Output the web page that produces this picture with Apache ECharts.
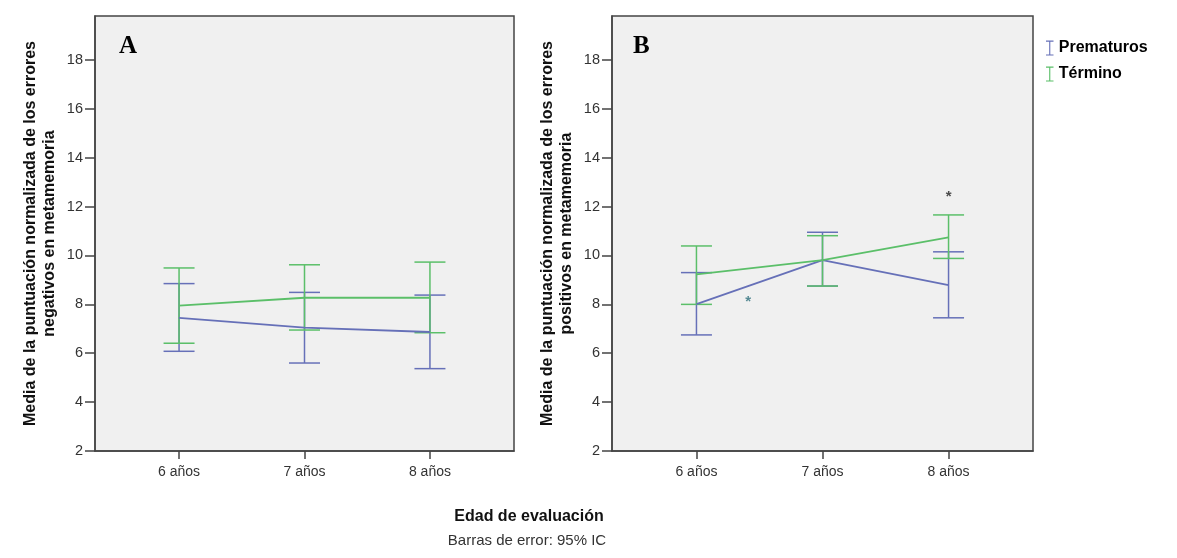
<!DOCTYPE html>
<html>
<head>
<meta charset="utf-8">
<script src="https://cdn.jsdelivr.net/npm/echarts@6/dist/echarts.min.js"></script>
<style>
  html, body { margin: 0; padding: 0; background: #fff; }
  #main { width: 1177px; height: 558px; }
</style>
</head>
<body>
<div id="main"></div>
<script>
// categorias (edad) y su posicion en el eje
const ages = ['6 años', '7 años', '8 años'];
const agePos = [6, 7, 8];
const yTicks = [2, 4, 6, 8, 10, 12, 14, 16, 18];

// A: errores negativos
const aPremMean = [7.45, 7.05, 6.87];
const aPremLow = [6.08, 5.60, 5.37];
const aPremHigh = [8.85, 8.49, 8.38];
const aTermMean = [7.95, 8.27, 8.27];
const aTermLow = [6.41, 6.95, 6.84];
const aTermHigh = [9.49, 9.62, 9.73];

// B: errores positivos
const bPremMean = [8.01, 9.81, 8.79];
const bPremLow = [6.75, 8.75, 7.45];
const bPremHigh = [9.30, 10.95, 10.15];
const bTermMean = [9.23, 9.81, 10.74];
const bTermLow = [8.00, 8.75, 9.88];
const bTermHigh = [10.39, 10.81, 11.66];

// asteriscos de significacion en B
const bStarX = [6.41, 8];
const bStarY = [8.27, 12.57];

const blue = '#6670b8';
const green = '#5bbf69';

const myChart = echarts.init(document.getElementById('main'));

function errRender(color) {
  return function (params, api) {
    const x = api.value(0);
    const lo = api.coord([x, api.value(1)]);
    const hi = api.coord([x, api.value(2)]);
    const w = 15.5;
    const st = { stroke: color, lineWidth: 1.5 };
    return {
      type: 'group',
      children: [
        { type: 'line', shape: { x1: lo[0], y1: lo[1], x2: hi[0], y2: hi[1] }, style: st },
        { type: 'line', shape: { x1: lo[0] - w, y1: lo[1], x2: lo[0] + w, y2: lo[1] }, style: st },
        { type: 'line', shape: { x1: hi[0] - w, y1: hi[1], x2: hi[0] + w, y2: hi[1] }, style: st }
      ]
    };
  };
}

function errData(low, high) {
  return agePos.map((x, i) => [x, low[i], high[i]]);
}
function lineData(mean) {
  return agePos.map((x, i) => [x, mean[i]]);
}

function xAxisOf(idx) {
  return {
    gridIndex: idx,
    type: 'value',
    min: 5.33,
    max: 8.67,
    splitLine: { show: false },
    axisLine: { show: true, lineStyle: { color: '#444', width: 1.5 } },
    axisTick: { show: true, length: 8, customValues: agePos, lineStyle: { color: '#444', width: 1.5 } },
    axisLabel: {
      customValues: agePos,
      margin: 14,
      color: '#333',
      fontSize: 14,
      fontFamily: 'Liberation Sans, Arial, sans-serif',
      formatter: v => ages[agePos.indexOf(Math.round(v))]
    }
  };
}

function yAxisOf(idx, title) {
  return {
    gridIndex: idx,
    type: 'value',
    min: 2,
    max: 19.8,
    interval: 2,
    name: title,
    nameLocation: 'middle',
    nameGap: 36,
    nameRotate: 90,
    nameTextStyle: {
      color: '#111',
      fontSize: 16,
      fontWeight: 'bold',
      lineHeight: 19,
      fontFamily: 'Liberation Sans, Arial, sans-serif'
    },
    splitLine: { show: false },
    axisLine: { show: true, lineStyle: { color: '#444', width: 1.5 } },
    axisTick: { show: true, length: 10, customValues: yTicks, lineStyle: { color: '#444', width: 1.5 } },
    axisLabel: {
      customValues: yTicks,
      margin: 12,
      color: '#333',
      fontSize: 14.5,
      fontFamily: 'Liberation Sans, Arial, sans-serif'
    }
  };
}

myChart.setOption({
  animation: false,
  legend: {
    orient: 'vertical',
    left: 1041,
    top: 35,
    itemGap: 10,
    itemWidth: 8,
    itemHeight: 15,
    textStyle: { color: '#000', fontSize: 16, fontWeight: 'bold', fontFamily: 'Liberation Sans, Arial, sans-serif' },
    data: [
      { name: 'Prematuros', icon: 'path://M0,0h8v1.2h-8z M3.4,0h1.2v16h-1.2z M0,14.8h8v1.2h-8z', itemStyle: { color: blue } },
      { name: 'Término', icon: 'path://M0,0h8v1.2h-8z M3.4,0h1.2v16h-1.2z M0,14.8h8v1.2h-8z', itemStyle: { color: green } }
    ]
  },
  grid: [
    { left: 95, top: 16, width: 419, height: 435, show: true, backgroundColor: '#f0f0f0', borderColor: '#444', borderWidth: 1.5 },
    { left: 612, top: 16, width: 421, height: 435, show: true, backgroundColor: '#f0f0f0', borderColor: '#444', borderWidth: 1.5 }
  ],
  xAxis: [xAxisOf(0), xAxisOf(1)],
  yAxis: [
    yAxisOf(0, 'Media de la puntuación normalizada de los errores\nnegativos en metamemoria'),
    yAxisOf(1, 'Media de la puntuación normalizada de los errores\npositivos en metamemoria')
  ],
  graphic: [
    { type: 'text', left: 119, top: 34, style: { text: 'A', fontSize: 25, fontWeight: 'bold', fontFamily: 'Liberation Serif, Times New Roman, serif', fill: '#000' } },
    { type: 'text', left: 633, top: 34, style: { text: 'B', fontSize: 25, fontWeight: 'bold', fontFamily: 'Liberation Serif, Times New Roman, serif', fill: '#000' } },
    { type: 'text', x: 529, y: 509, style: { text: 'Edad de evaluación', align: 'center', fontSize: 16, fontWeight: 'bold', fontFamily: 'Liberation Sans, Arial, sans-serif', fill: '#111' } },
    { type: 'text', x: 527, y: 533, style: { text: 'Barras de error: 95% IC', align: 'center', fontSize: 15, fontFamily: 'Liberation Sans, Arial, sans-serif', fill: '#333' } }
  ],
  series: [
    // A
    { name: 'Prematuros', type: 'line', xAxisIndex: 0, yAxisIndex: 0, data: lineData(aPremMean), symbol: 'none', lineStyle: { color: blue, width: 1.8 }, itemStyle: { color: blue } },
    { name: 'Término', type: 'line', xAxisIndex: 0, yAxisIndex: 0, data: lineData(aTermMean), symbol: 'none', lineStyle: { color: green, width: 1.8 }, itemStyle: { color: green } },
    { name: 'Prematuros', type: 'custom', xAxisIndex: 0, yAxisIndex: 0, renderItem: errRender(blue), encode: { x: 0, y: [1, 2] }, data: errData(aPremLow, aPremHigh) },
    { name: 'Término', type: 'custom', xAxisIndex: 0, yAxisIndex: 0, renderItem: errRender(green), encode: { x: 0, y: [1, 2] }, data: errData(aTermLow, aTermHigh) },
    // B
    { name: 'Prematuros', type: 'line', xAxisIndex: 1, yAxisIndex: 1, data: lineData(bPremMean), symbol: 'none', lineStyle: { color: blue, width: 1.8 }, itemStyle: { color: blue } },
    { name: 'Término', type: 'line', xAxisIndex: 1, yAxisIndex: 1, data: lineData(bTermMean), symbol: 'none', lineStyle: { color: green, width: 1.8 }, itemStyle: { color: green } },
    { name: 'Prematuros', type: 'custom', xAxisIndex: 1, yAxisIndex: 1, renderItem: errRender(blue), encode: { x: 0, y: [1, 2] }, data: errData(bPremLow, bPremHigh) },
    { name: 'Término', type: 'custom', xAxisIndex: 1, yAxisIndex: 1, renderItem: errRender(green), encode: { x: 0, y: [1, 2] }, data: errData(bTermLow, bTermHigh) },
    {
      type: 'scatter', xAxisIndex: 1, yAxisIndex: 1, symbolSize: 0, silent: true,
      data: [
        { value: [bStarX[0], bStarY[0]], label: { color: '#2e6f7c' } },
        { value: [bStarX[1], bStarY[1]], label: { color: '#222' } }
      ],
      label: { show: true, position: 'inside', formatter: '*', fontSize: 15, fontWeight: 'bold', offset: [0, 4], fontFamily: 'Liberation Sans, Arial, sans-serif' }
    }
  ]
});
</script>
</body>
</html>
